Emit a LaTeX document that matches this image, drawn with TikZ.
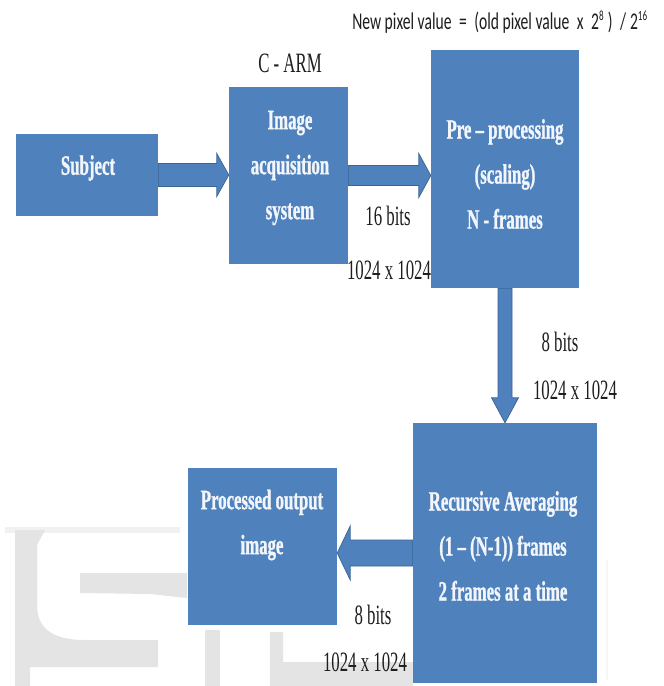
\documentclass[tikz,border=0pt]{standalone}
\usepackage{fontspec}
\setmainfont{Liberation Serif}
\newfontfamily\condserif{Liberation Serif}[FakeStretch=0.6, Ligatures=TeX]
\newfontfamily\condbold{Liberation Serif}[FakeStretch=0.6, FakeBold=1, Ligatures=TeX]
\newfontfamily\condsans{Carlito}[FakeStretch=0.65]
\usetikzlibrary{calc}
\definecolor{boxblue}{HTML}{4F81BD}
\definecolor{arrowedge}{HTML}{3A6496}
\definecolor{wmgray}{HTML}{E4E4E4}
\definecolor{labelgray}{HTML}{1E1E1E}
\definecolor{boxtextcol}{HTML}{F2F6FB}
\pgfdeclarelayer{background}
\pgfsetlayers{background,main}
\tikzset{
  box/.style={rectangle, fill=boxblue, inner sep=0pt},
  boxtext/.style={text=boxtextcol, font=\condbold\bfseries\fontsize{28}{45}\selectfont, align=center, inner sep=0pt},
  lbl/.style={text=labelgray, font=\condserif\fontsize{28}{34}\selectfont, inner sep=0pt},
  formula/.style={text=labelgray, font=\condsans\fontsize{24}{28}\selectfont, inner sep=0pt},
  blockarrow/.style={fill=boxblue, draw=arrowedge, line width=0.7pt, line join=miter},
  watermark/.style={fill=wmgray, draw=none}
}
% #1 start, #2 end, #3 shaft half width, #4 head half width, #5 head length
\newcommand\blockarr[5]{%
  \coordinate (tmpH) at ($(#2)!#5pt!(#1)$);
  \draw[blockarrow] ($(#1)!#3pt!90:(#2)$) -- ($(tmpH)!#3pt!90:(#2)$) -- ($(tmpH)!#4pt!90:(#2)$)
    -- (#2) -- ($(tmpH)!#4pt!-90:(#2)$) -- ($(tmpH)!#3pt!-90:(#2)$) -- ($(#1)!#3pt!-90:(#2)$) -- cycle;
}
\newcommand\smallsup[1]{\textsuperscript{\fontsize{14}{14}\selectfont #1}}
\begin{document}
\begin{tikzpicture}[x=1pt, y=-1pt]
\useasboundingbox (0,0) rectangle (664,686);

% boxes
\node[box, minimum width=142pt, minimum height=82pt] (subj) at (87,175) {};
\node[box, minimum width=119pt, minimum height=177pt] (acq) at (288.5,175.5) {};
\node[box, minimum width=148pt, minimum height=238pt] (pre) at (505,169) {};
\node[box, minimum width=184pt, minimum height=260pt] (rec) at (505,553) {};
\node[box, minimum width=149pt, minimum height=157pt] (proc) at (262.5,546.5) {};

% box texts
\node[boxtext] (subjt) at (88,168) {Subject};
\node[boxtext] (acqt) at (290,168) {Image\\acquisition\\system};
\node[boxtext] (pret) at (505,174) {Pre – processing\\(scaling)\\N - frames};
\node[boxtext] (rect) at (503,546) {Recursive Averaging\\(1 – (N-1)) frames\\2 frames at a time};
\node[boxtext] (proct) at (262,525) {Processed output\\image};

% labels
\node[formula] (form) at (500,22) {New pixel value \,=\, (old pixel value \,x\, 2\smallsup{8} ) \,/\,2\smallsup{16}};
\node[lbl] (carm) at (290,63) {C - ARM};
\node[lbl] (l16) at (388,216) {16 bits};
\node[lbl] (l16r) at (389,270) {1024 x 1024};
\node[lbl] (l8a) at (560,342) {8 bits};
\node[lbl] (l8ar) at (575,390) {1024 x 1024};
\node[lbl] (l8b) at (373,615) {8 bits};
\node[lbl] (l8br) at (365,662) {1024 x 1024};

\begin{pgfonlayer}{background}
\fill[white] (0,0) rectangle (664,686);
% watermark
\fill[watermark] (15,530) -- (45,530) -- (37,545) -- (37,605)
  .. controls (37,630) and (55,640) .. (85,640) -- (158,640) -- (158,667)
  -- (30,667) -- (30,686) -- (15,686) -- cycle;
\fill[watermark, opacity=0.5] (5,527) rectangle (180,533);
\fill[watermark] (80,573) -- (187,573) -- (187,598) -- (150,594) -- (80,593) -- cycle;
\fill[watermark] (205,630) rectangle (220,686);
\fill[watermark] (270,632) -- (283,632) -- (283,662) -- (413,662) -- (413,686) -- (270,686) -- cycle;
\fill[watermark, opacity=0.3] (606,560) rectangle (608,680);

% connectors
\coordinate (a1e) at (subj.east -| acq.west);
\blockarr{subj.east}{a1e}{11.5}{21.5}{12}
\coordinate (a2e) at (acq.east -| pre.west);
\blockarr{acq.east}{a2e}{10}{22}{12}
\blockarr{pre.south}{rec.north}{7}{13.5}{25}
\coordinate (a4e) at (rec.west -| proc.east);
\blockarr{rec.west}{a4e}{13}{27}{13}
\end{pgfonlayer}
\end{tikzpicture}
\end{document}
